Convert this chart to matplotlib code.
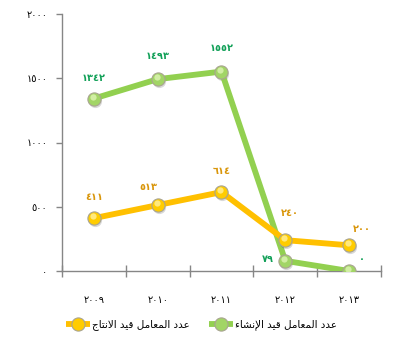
import matplotlib
matplotlib.use("Agg")
import matplotlib.pyplot as plt
from matplotlib.ticker import FixedLocator, FuncFormatter
from matplotlib import transforms

plt.rcParams['font.family'] = ['DejaVu Sans']

# ---------------- data ----------------
years = [2009, 2010, 2011, 2012, 2013]
production = [411, 513, 614, 240, 200]          # عدد المعامل قيد الانتاج
construction = [1342, 1493, 1552, 79, 0]        # عدد المعامل قيد الإنشاء
label_production = "عدد المعامل قيد الانتاج"
label_construction = "عدد المعامل قيد الإنشاء"
y_ticks = [0, 500, 1000, 1500, 2000]

# ---------------- helpers ----------------
AR_DIGITS = str.maketrans("0123456789", "٠١٢٣٤٥٦٧٨٩")


def ar_num(v):
    return str(int(round(v))).translate(AR_DIGITS)


FORMS = {
    'ا': (0xFE8D, 0xFE8E, None, None),
    'إ': (0xFE87, 0xFE88, None, None),
    'د': (0xFEA9, 0xFEAA, None, None),
    'ء': (0xFE80, None, None, None),
    'ع': (0xFEC9, 0xFECA, 0xFECB, 0xFECC),
    'ل': (0xFEDD, 0xFEDE, 0xFEDF, 0xFEE0),
    'م': (0xFEE1, 0xFEE2, 0xFEE3, 0xFEE4),
    'ق': (0xFED5, 0xFED6, 0xFED7, 0xFED8),
    'ي': (0xFEF1, 0xFEF2, 0xFEF3, 0xFEF4),
    'ن': (0xFEE5, 0xFEE6, 0xFEE7, 0xFEE8),
    'ت': (0xFE95, 0xFE96, 0xFE97, 0xFE98),
    'ج': (0xFE9D, 0xFE9E, 0xFE9F, 0xFEA0),
    'ش': (0xFEB5, 0xFEB6, 0xFEB7, 0xFEB8),
}
LAM_ALEF = {'ا': (0xFEFB, 0xFEFC, None, None), 'إ': (0xFEF9, 0xFEFA, None, None)}


def shape_rtl(text):
    tokens = []
    i = 0
    while i < len(text):
        c = text[i]
        if c == 'ل' and i + 1 < len(text) and text[i + 1] in LAM_ALEF:
            tokens.append(LAM_ALEF[text[i + 1]])
            i += 2
            continue
        tokens.append(FORMS.get(c, c))
        i += 1
    out = []
    for k, t in enumerate(tokens):
        if isinstance(t, str):
            out.append(t)
            continue
        prev = tokens[k - 1] if k > 0 else None
        nxt = tokens[k + 1] if k + 1 < len(tokens) else None
        jp = prev is not None and not isinstance(prev, str) and prev[2] is not None and t[1] is not None
        jn = nxt is not None and not isinstance(nxt, str) and t[2] is not None and nxt[1] is not None
        if jp and jn:
            code = t[3]
        elif jp:
            code = t[1]
        elif jn:
            code = t[2]
        else:
            code = t[0]
        out.append(chr(code))
    return ''.join(out)[::-1]


# ---------------- figure ----------------
W, H = 412, 355
fig = plt.figure(figsize=(W / 100, H / 100), dpi=100)
ax = fig.add_axes([62 / W, (H - 271) / H, (381 - 62) / W, (271 - 14) / H])

x = list(range(len(years)))

orange_line = '#FFC000'
orange_face = '#FFCC00'
orange_text = '#D9960B'
green_line = '#92D050'
green_face = '#A2D566'
green_text = '#12A058'
grey = '#868686'


def draw_series(vals, lc, fc, hl, label, z):
    ln, = ax.plot(x, vals, color=lc, lw=4.2, solid_capstyle='butt', zorder=z,
                  marker='o', markersize=9.5, markerfacecolor=fc,
                  markeredgecolor='#A8A490', markeredgewidth=0.8,
                  label=label)
    sh = transforms.offset_copy(ax.transData, fig=fig, x=1, y=-2, units='dots')
    ax.plot(x, vals, ls='none', marker='o', markersize=9.5, color='#000000',
            alpha=0.15, mew=0, transform=sh, zorder=z - 0.5)
    hi = transforms.offset_copy(ax.transData, fig=fig, x=-1, y=2, units='dots')
    ax.plot(x, vals, ls='none', marker='o', markersize=4.5, color=hl,
            alpha=0.75, mew=0, transform=hi, zorder=z + 0.5)
    return ln


l_green = draw_series(construction, green_line, green_face, '#E2F7B8',
                      shape_rtl(label_construction), 3)
l_orange = draw_series(production, orange_line, orange_face, '#FFF3A8',
                       shape_rtl(label_production), 4)

green_off = [(0, 21), (0, 23), (0, 24), (-17, 2), (13, 12)]
orange_off = [(0, 21), (-9, 18), (0, 21), (5, 27), (13, 16)]
for xi, v, o in zip(x, construction, green_off):
    ax.annotate(ar_num(v), (xi, v), xytext=o, textcoords='offset pixels',
                ha='center', va='center', fontsize=7, fontweight='bold',
                color=green_text, zorder=6)
for xi, v, o in zip(x, production, orange_off):
    ax.annotate(ar_num(v), (xi, v), xytext=o, textcoords='offset pixels',
                ha='center', va='center', fontsize=7, fontweight='bold',
                color=orange_text, zorder=6)

ax.set_xlim(-0.5, len(years) - 0.5)
ax.set_ylim(0, 2000)

for s in ['top', 'right']:
    ax.spines[s].set_visible(False)
for s in ['left', 'bottom']:
    ax.spines[s].set_color(grey)
    ax.spines[s].set_linewidth(1.0)

ax.yaxis.set_major_locator(FixedLocator(y_ticks))
ax.yaxis.set_major_formatter(FuncFormatter(lambda v, p: ar_num(v)))
ax.tick_params(axis='y', length=4, width=1, color=grey, pad=6.5,
               labelsize=7, labelcolor='black')

ax.set_xticks(x)
ax.set_xticklabels([ar_num(y) for y in years])
ax.tick_params(axis='x', which='major', length=0, pad=17, labelsize=7,
               labelcolor='black')
ax.set_xticks([i - 0.5 for i in range(len(years) + 1)], minor=True)
ax.tick_params(axis='x', which='minor', direction='inout', length=8,
               width=1, color=grey)

leg = fig.legend(handles=[l_orange, l_green], loc='center left',
                 bbox_to_anchor=(66 / W, (H - 325) / H), ncol=2,
                 frameon=False, fontsize=7.5, handlelength=2.3,
                 handletextpad=0.2, columnspacing=1.8,
                 borderpad=0, borderaxespad=0)

fig.savefig('out.png', dpi=100)
